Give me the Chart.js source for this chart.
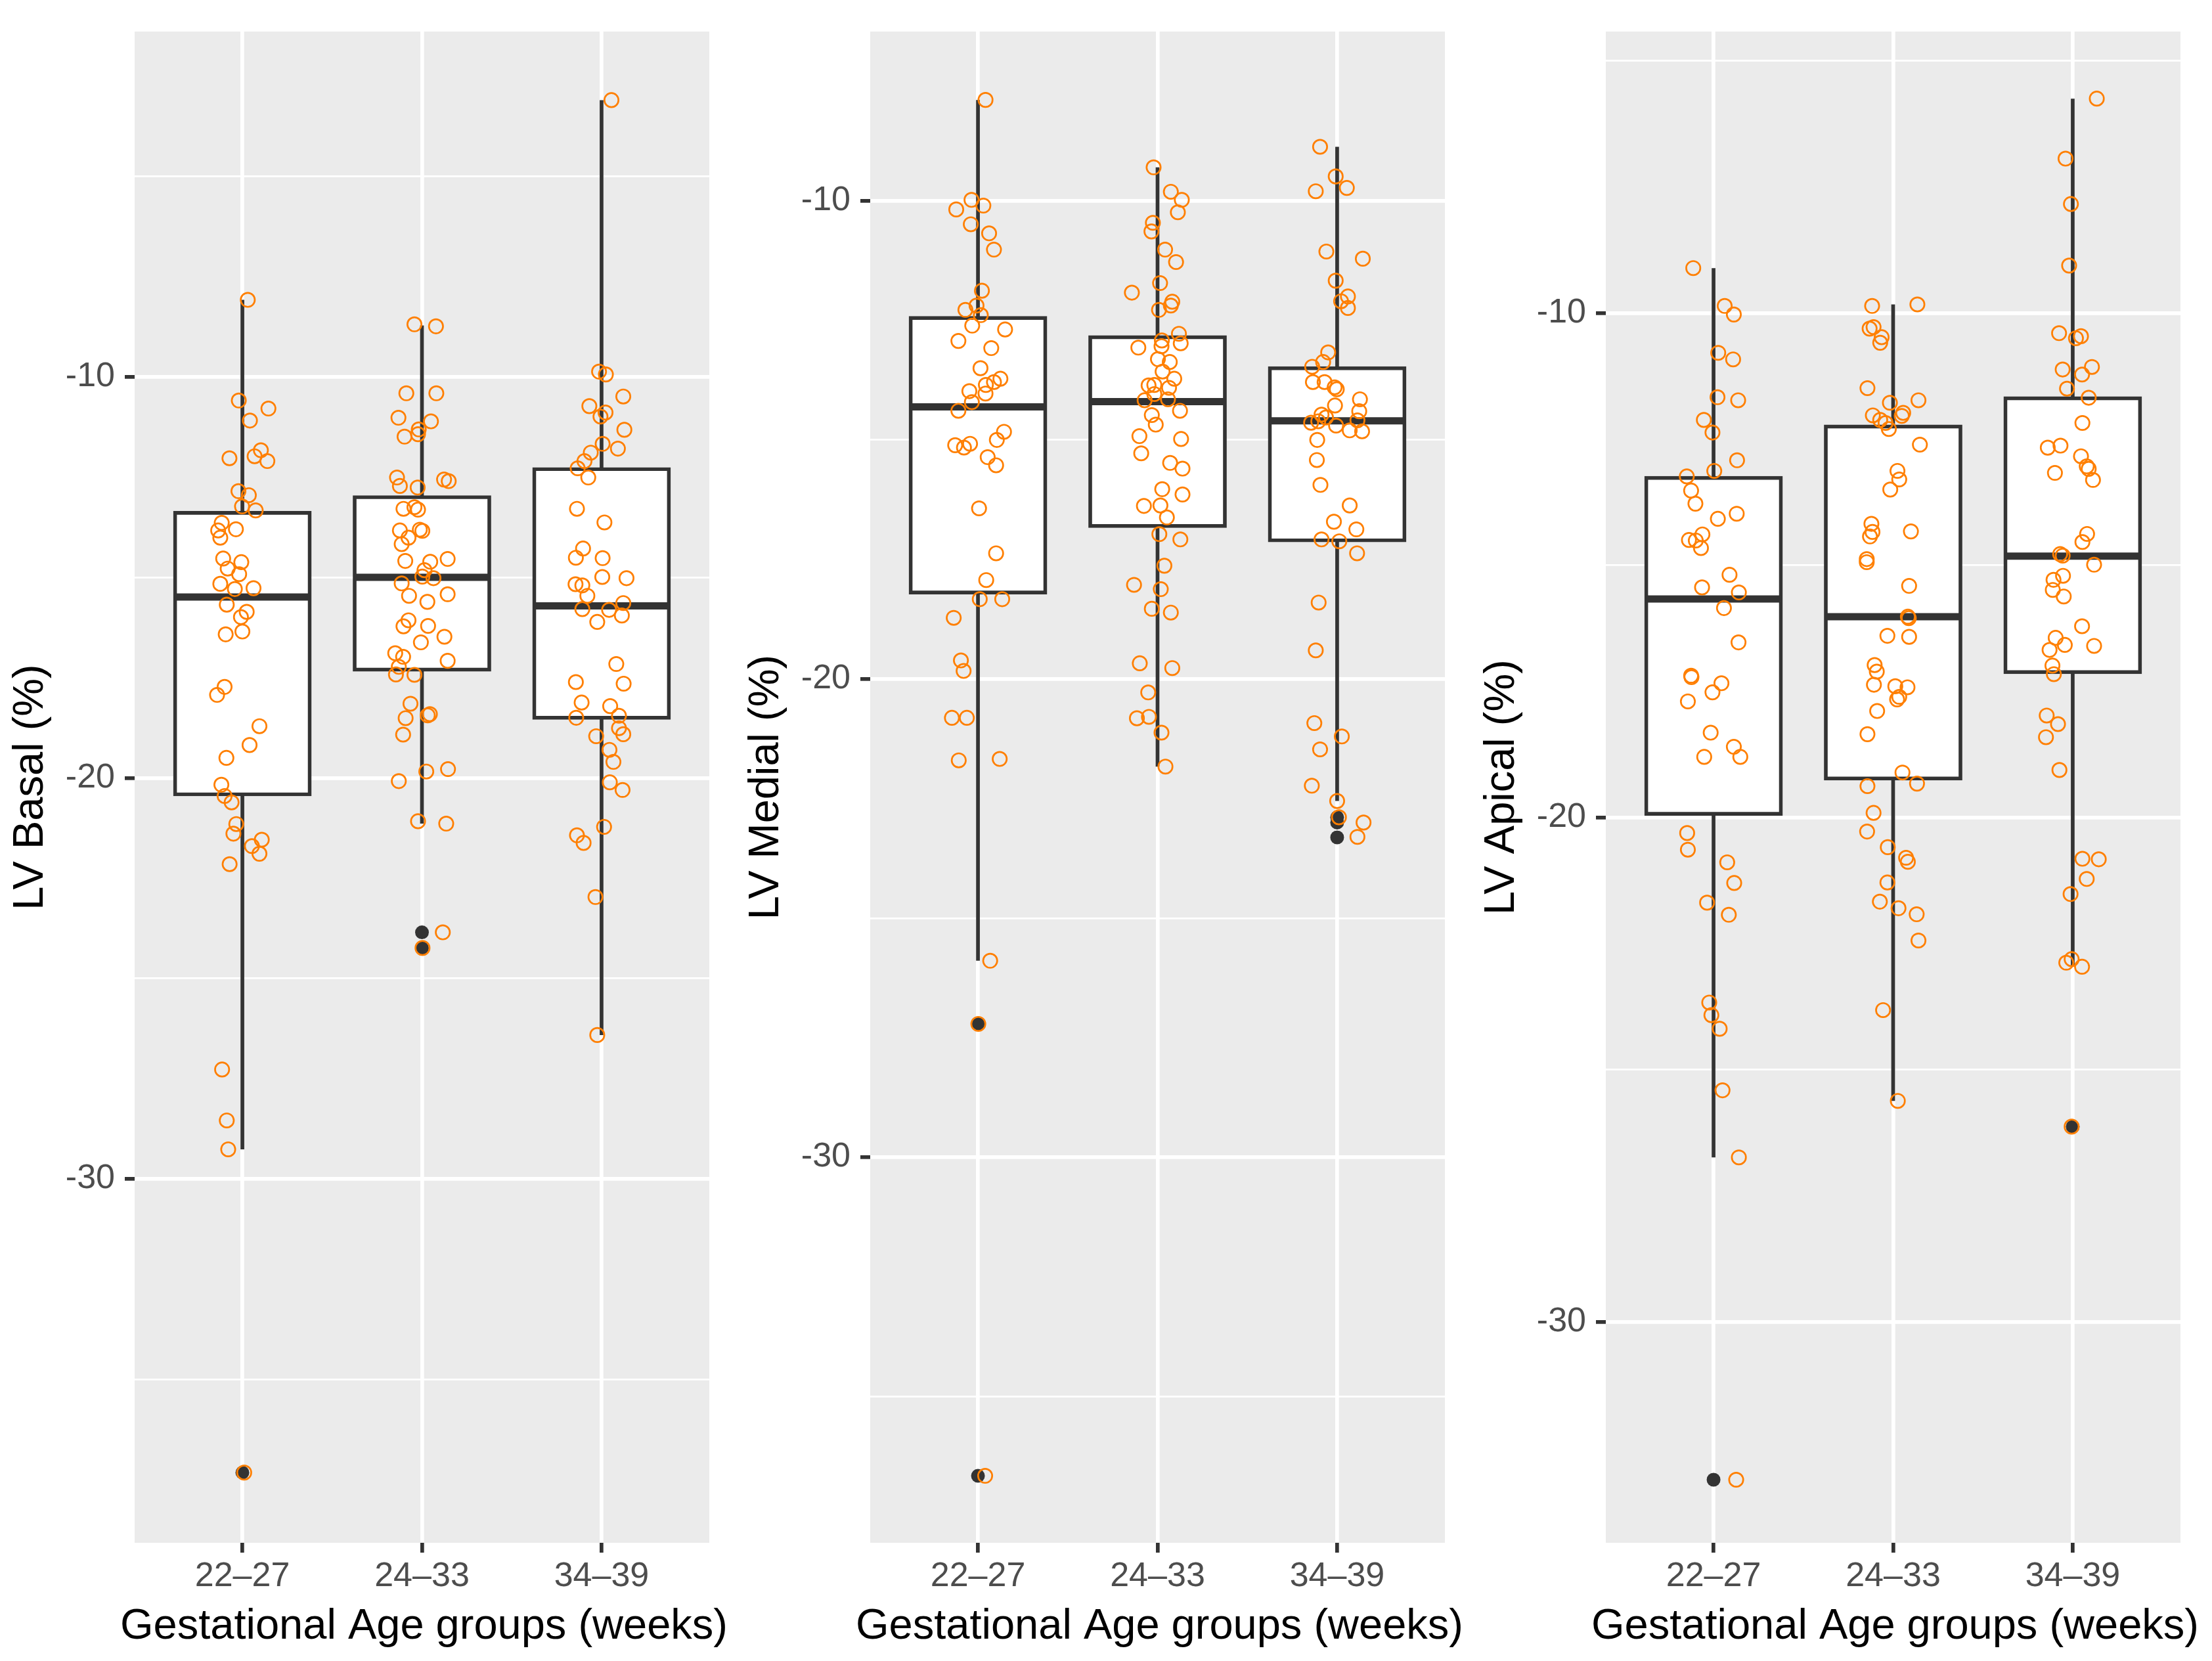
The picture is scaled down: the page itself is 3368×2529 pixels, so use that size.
<!DOCTYPE html>
<html>
<head>
<meta charset="utf-8">
<script src="https://cdn.jsdelivr.net/npm/chart.js@4.4.1/dist/chart.umd.min.js"></script>
<style>
  html, body { margin: 0; padding: 0; background: #fff; }
  #wrap { display: flex; width: 3368px; height: 2529px; }
  canvas { display: block; }
</style>
</head>
<body>
<div id="wrap">
  <canvas id="basal" width="1120" height="2529" style="width:1120px;height:2529px"></canvas>
  <canvas id="medial" width="1120" height="2529" style="width:1120px;height:2529px"></canvas>
  <canvas id="apical" width="1128" height="2529" style="width:1128px;height:2529px"></canvas>
</div>
<script>
const groups = ['22–27', '24–33', '34–39'];
const xTitle = 'Gestational Age groups (weeks)';

// ---- LV Basal ----
const basalVal1 = [-8.08,-10.59,-10.79,-11.09,-12.03,-11.98,-11.83,-12.10,-12.85,-12.95,-13.23,-13.33,-13.64,-13.83,-13.80,-14.01,-14.53,-14.62,-14.78,-14.92,-15.16,-15.29,-15.27,-15.68,-15.86,-15.99,-16.42,-16.35,-17.73,-17.93,-18.71,-19.18,-19.50,-20.17,-20.45,-20.61,-21.15,-21.39,-21.54,-21.70,-21.89,-22.15,-27.27,-28.54,-29.26,-37.32];
const basalJit1 = [0.03,-0.02,0.145,0.042,-0.072,0.068,0.103,0.139,-0.022,0.036,-0.002,0.074,-0.115,-0.135,-0.036,-0.123,-0.107,-0.006,-0.082,-0.018,-0.123,-0.042,0.062,-0.087,0.024,-0.008,-0.093,0,-0.099,-0.141,0.095,0.04,-0.089,-0.117,-0.099,-0.06,-0.034,-0.05,0.108,0.053,0.095,-0.071,-0.113,-0.087,-0.079,0.01];
const basalVal2 = [-8.69,-8.74,-10.41,-10.41,-11.02,-11.11,-11.31,-11.43,-11.49,-12.51,-12.72,-12.76,-12.56,-12.60,-13.29,-13.25,-13.31,-13.83,-13.81,-13.84,-14.01,-14.17,-14.59,-14.61,-14.54,-14.82,-14.98,-15.02,-15.15,-15.46,-15.42,-15.61,-16.07,-16.22,-16.21,-16.48,-16.62,-16.89,-16.98,-17.23,-17.42,-17.43,-17.08,-18.15,-18.51,-18.44,-18.41,-18.92,-19.84,-19.78,-20.08,-21.08,-21.14,-23.85,-24.24];
const basalJit2 = [-0.042,0.078,-0.087,0.08,-0.131,0.05,-0.018,-0.022,-0.097,-0.139,-0.123,-0.024,0.123,0.149,-0.103,-0.042,-0.022,-0.123,-0.012,0.002,-0.075,-0.113,-0.093,0.046,0.143,0.014,0.002,0.064,-0.113,-0.072,0.143,0.03,-0.075,-0.103,0.034,0.125,-0.006,-0.149,-0.105,-0.129,-0.145,-0.042,0.143,-0.064,-0.091,0.032,0.044,-0.105,0.024,0.145,-0.129,-0.022,0.135,0.116,0.003];
const basalVal3 = [-3.1,-9.87,-9.94,-10.49,-10.73,-10.89,-10.99,-11.32,-11.67,-11.79,-11.89,-12.10,-12.28,-12.51,-13.29,-13.63,-14.28,-14.51,-14.52,-14.99,-15.02,-15.17,-15.20,-15.46,-15.64,-15.79,-15.81,-15.95,-16.11,-17.16,-17.61,-17.65,-18.12,-18.21,-18.45,-18.50,-18.76,-18.91,-18.96,-19.30,-19.60,-20.11,-20.30,-21.22,-21.43,-21.62,-22.97,-26.41];
const basalJit3 = [0.055,-0.014,0.024,0.121,-0.068,0.022,-0.006,0.127,0.006,0.091,-0.06,-0.095,-0.133,-0.074,-0.137,0.016,-0.103,-0.143,0.006,0.004,0.139,-0.145,-0.107,-0.079,0.121,-0.107,0.042,0.113,-0.024,0.082,-0.143,0.123,-0.111,0.048,0.097,-0.141,0.097,0.121,-0.03,0.044,0.066,0.046,0.117,0.014,-0.137,-0.1,-0.034,-0.024];
const basalQ1 = [-20.41, -17.30, -18.50];
const basalMed = [-15.49, -15.00, -15.71];
const basalQ3 = [-13.39, -13.00, -12.30];
const basalLo = [-29.26, -21.14, -26.41];
const basalHi = [-8.08, -8.72, -3.10];
const basalOut = [[-37.32], [-23.85, -24.24], []];

// ---- LV Medial ----
const medialVal1 = [-7.89,-9.98,-10.10,-10.18,-10.49,-10.68,-11.02,-11.88,-12.19,-12.28,-12.39,-12.61,-12.69,-12.93,-13.08,-13.50,-13.72,-13.79,-13.85,-14.03,-13.98,-14.21,-14.39,-14.83,-15.00,-15.11,-15.16,-15.08,-15.36,-15.53,-16.43,-17.37,-17.93,-18.33,-18.33,-18.72,-19.61,-19.83,-20.81,-20.81,-21.70,-21.67,-25.89,-27.21,-36.66];
const medialJit1 = [0.042,-0.036,0.03,-0.121,-0.04,0.062,0.089,0.022,-0.008,-0.07,0.016,-0.032,0.151,-0.109,0.074,0.014,0.125,0.089,0.044,0.042,-0.048,-0.034,-0.109,0.145,0.105,-0.127,-0.078,-0.044,0.054,0.101,0.006,0.101,0.046,0.01,0.135,-0.135,-0.095,-0.08,-0.145,-0.062,-0.107,0.121,0.068,0.002,0.04];
const medialVal2 = [-9.30,-9.81,-9.98,-10.24,-10.46,-10.64,-11.02,-11.28,-11.72,-11.92,-12.11,-12.19,-12.28,-12.78,-12.92,-12.98,-13.07,-13.04,-13.31,-13.37,-13.57,-13.72,-13.86,-13.85,-13.91,-14.04,-14.17,-14.15,-14.39,-14.48,-14.68,-14.92,-14.98,-15.28,-15.48,-15.60,-16.03,-16.14,-16.38,-16.37,-16.62,-16.97,-17.08,-17.63,-18.03,-18.12,-18.53,-18.61,-19.67,-19.77,-20.28,-20.82,-20.79,-21.12,-21.83];
const medialJit2 = [-0.022,0.074,0.135,0.113,-0.026,-0.034,0.042,0.103,0.014,-0.143,0.082,0.074,0.008,0.119,0.024,0.129,-0.107,0.022,0.002,0.068,0.028,0.093,-0.05,-0.018,0.064,-0.018,-0.072,0.058,0.125,-0.032,-0.01,-0.101,0.131,-0.091,0.07,0.139,0.026,0.139,-0.076,0.016,0.052,0.01,0.127,0.038,-0.131,0.018,-0.032,0.074,-0.099,0.082,-0.052,-0.115,-0.048,0.022,0.044];
const medialVal3 = [-8.87,-9.49,-9.73,-9.80,-11.06,-11.21,-11.67,-12.00,-12.10,-12.24,-13.17,-13.37,-13.47,-13.79,-13.79,-13.90,-13.94,-14.15,-14.28,-14.40,-14.47,-14.53,-14.64,-14.61,-14.59,-14.70,-14.80,-14.82,-15.00,-15.42,-15.94,-16.37,-16.71,-16.87,-17.08,-17.12,-17.37,-18.40,-19.40,-20.92,-21.20,-21.47,-22.23,-22.55,-22.89,-23.00,-23.30];
const medialJit3 = [-0.095,-0.008,0.054,-0.119,-0.06,0.143,-0.008,0.06,0.022,0.06,-0.05,-0.078,-0.139,-0.135,-0.07,-0.014,-0.002,0.127,-0.012,0.123,-0.087,-0.062,-0.145,-0.105,0.113,-0.006,0.07,0.139,-0.111,-0.113,-0.093,0.07,-0.018,0.107,-0.087,0.012,0.111,-0.103,-0.119,-0.127,0.026,-0.095,-0.141,0,0.01,0.147,0.113];
const medialQ1 = [-18.19, -16.80, -17.10];
const medialMed = [-14.31, -14.20, -14.60];
const medialQ3 = [-12.45, -12.85, -13.50];
const medialLo = [-25.89, -21.83, -22.55];
const medialHi = [-7.89, -9.30, -8.87];
const medialOut = [[-27.21, -36.66], [], [-22.89, -23.00, -23.31]];

// ---- LV Apical ----
const apicalVal1 = [-9.11,-9.86,-10.03,-10.79,-10.92,-11.67,-11.73,-12.12,-12.37,-12.92,-13.13,-13.24,-13.52,-13.78,-14.08,-13.98,-14.39,-14.50,-14.51,-14.66,-15.19,-15.44,-15.54,-15.85,-16.53,-17.19,-17.22,-17.34,-17.52,-17.70,-18.32,-18.60,-18.80,-18.80,-20.31,-20.64,-20.89,-21.30,-21.69,-21.93,-23.67,-23.92,-24.19,-25.41,-26.74,-33.13];
const apicalJit1 = [-0.113,0.062,0.113,0.026,0.109,0.022,0.137,-0.054,-0.006,0.131,0.004,-0.149,-0.125,-0.101,0.024,0.129,-0.062,-0.137,-0.099,-0.07,0.089,-0.064,0.141,0.058,0.139,-0.125,-0.123,0.044,-0.006,-0.143,-0.016,0.113,0.149,-0.052,-0.147,-0.143,0.076,0.115,-0.036,0.085,-0.024,-0.012,0.034,0.05,0.141,0.126];
const apicalVal2 = [-9.86,-9.83,-10.31,-10.28,-10.48,-10.59,-11.49,-11.78,-11.73,-12.03,-11.98,-12.04,-12.12,-12.18,-12.30,-12.61,-13.13,-13.30,-13.50,-14.18,-14.34,-14.43,-14.33,-14.88,-14.94,-15.41,-16.02,-16.05,-16.40,-16.42,-16.98,-17.11,-17.37,-17.40,-17.42,-17.66,-17.61,-17.89,-18.35,-19.11,-19.33,-19.38,-19.91,-20.28,-20.59,-20.80,-20.88,-21.29,-21.67,-21.80,-21.92,-22.44,-23.82,-25.62];
const apicalJit2 = [-0.117,0.135,-0.131,-0.109,-0.064,-0.072,-0.143,-0.018,0.141,-0.113,0.056,0.048,-0.072,-0.042,-0.024,0.149,0.024,0.034,-0.016,-0.121,-0.115,-0.129,0.099,-0.147,-0.147,0.089,0.082,0.087,-0.032,0.089,-0.103,-0.091,-0.107,0.012,0.08,0.022,0.034,-0.089,-0.143,0.052,0.133,-0.143,-0.109,-0.145,-0.03,0.072,0.082,-0.032,-0.074,0.03,0.131,0.141,-0.056,0.026];
const apicalVal3 = [-5.75,-6.94,-7.84,-9.06,-10.40,-10.46,-10.50,-11.12,-11.07,-11.22,-11.50,-11.68,-12.18,-12.67,-12.63,-12.84,-13.04,-13.09,-13.17,-13.31,-14.38,-14.54,-14.78,-14.81,-14.99,-15.21,-15.29,-15.49,-15.62,-16.21,-16.44,-16.58,-16.68,-16.60,-16.99,-17.16,-17.98,-18.15,-18.41,-19.06,-20.82,-20.83,-21.22,-21.52,-22.81,-22.88,-22.96,-26.13];
const apicalJit3 = [0.134,-0.04,-0.01,-0.02,-0.076,0.046,0.018,-0.056,0.107,0.052,-0.032,0.089,0.054,-0.139,-0.068,0.046,0.078,0.089,-0.099,0.113,0.08,0.054,-0.07,-0.056,0.119,-0.054,-0.107,-0.111,-0.05,0.052,-0.095,-0.044,-0.129,0.119,-0.113,-0.105,-0.145,-0.082,-0.149,-0.074,0.054,0.145,0.078,-0.012,-0.006,-0.036,0.052,-0.006];
const apicalQ1 = [-19.93, -19.23, -17.12];
const apicalMed = [-15.67, -16.02, -14.82];
const apicalQ3 = [-13.27, -12.25, -11.69];
const apicalLo = [-26.74, -25.62, -22.96];
const apicalHi = [-9.11, -9.83, -5.75];
const apicalOut = [[-33.13], [], [-26.13]];

const FONT = '"Liberation Sans", Arial, Helvetica, sans-serif';
const DARK = '#333333';
const ORANGE = '#FF7F00';
const LINE = 5.7;

// grey panel behind the plot area, like ggplot's theme_gray
const panelBg = {
  id: 'panelBg',
  beforeDraw(chart) {
    const { ctx, chartArea: a } = chart;
    ctx.save();
    ctx.fillStyle = '#ffffff';
    ctx.fillRect(0, 0, chart.width, chart.height);
    ctx.fillStyle = '#EBEBEB';
    ctx.fillRect(a.left, a.top, a.right - a.left, a.bottom - a.top);
    ctx.restore();
  }
};

// x-axis title: wider than the plot area, so draw it without Chart.js' maxWidth squeeze
const xTitlePlugin = {
  id: 'xTitlePlugin',
  afterDraw(chart) {
    const { ctx, chartArea: a } = chart;
    ctx.save();
    ctx.font = '65px ' + FONT;
    ctx.fillStyle = '#000000';
    ctx.textAlign = 'center';
    ctx.textBaseline = 'alphabetic';
    ctx.fillText(xTitle, (a.left + a.right) / 2 + 3, 2495);
    ctx.restore();
  }
};

function drawPanel(id, yTitle, yMin, yMax, padRight, vals, jits, q1, med, q3, lo, hi, outs) {
  const points = [];
  vals.forEach((arr, g) => arr.forEach((v, i) => points.push({ x: g + 1 + jits[g][i], y: v })));
  const outliers = [];
  outs.forEach((arr, g) => arr.forEach(v => outliers.push({ x: g + 1, y: v })));
  const boxes = q1.map((v, g) => ({ x: g + 1, y: [v, q3[g]] }));
  const medians = [];
  med.forEach((m, g) => {
    medians.push({ x: g + 0.625, y: m }, { x: g + 1.375, y: m }, { x: g + 1.5, y: null });
  });
  const whiskers = [];
  lo.forEach((l, g) => {
    whiskers.push({ x: g + 1, y: l }, { x: g + 1, y: hi[g] }, { x: g + 1.5, y: null });
  });

  new Chart(document.getElementById(id), {
    type: 'scatter',
    data: {
      datasets: [
        { type: 'scatter', data: points, order: 0, pointRadius: 10.7, pointBorderWidth: 2.7,
          borderColor: ORANGE, backgroundColor: 'rgba(0,0,0,0)', pointHoverRadius: 10.7 },
        { type: 'scatter', data: outliers, order: 1, pointRadius: 10.5, borderWidth: 0,
          backgroundColor: DARK, borderColor: DARK },
        { type: 'line', data: medians, order: 2, borderColor: DARK, borderWidth: 11,
          pointRadius: 0, spanGaps: false, fill: false, borderCapStyle: 'butt' },
        { type: 'bar', data: boxes, order: 3, backgroundColor: '#ffffff', borderColor: DARK,
          borderWidth: LINE, borderSkipped: false, inflateAmount: LINE / 2,
          barPercentage: 0.75, categoryPercentage: 1, grouped: false },
        { type: 'line', data: whiskers, order: 4, borderColor: DARK, borderWidth: LINE,
          pointRadius: 0, spanGaps: false, fill: false, borderCapStyle: 'butt' }
      ]
    },
    options: {
      responsive: false,
      animation: false,
      devicePixelRatio: 1,
      events: [],
      layout: { padding: { top: 48, right: padRight, bottom: 0, left: 0 } },
      plugins: { legend: { display: false }, tooltip: { enabled: false } },
      scales: {
        x: {
          type: 'linear', min: 0.4, max: 3.6, offset: false,
          afterBuildTicks: s => { s.ticks = groups.map((_, i) => ({ value: i + 1 })); },
          afterFit: s => { s.height = 180; },
          border: { display: false },
          grid: { offset: false, color: '#ffffff', lineWidth: LINE, tickColor: DARK, tickWidth: LINE, tickLength: 15 },
          ticks: { callback: v => groups[v - 1], color: '#4D4D4D', font: { size: 52, family: FONT },
                   padding: 5, maxRotation: 0, autoSkip: false },
          title: { display: false }
        },
        y: {
          min: yMin, max: yMax,
          afterBuildTicks: s => {
            const t = [];
            for (let v = -40; v <= 0; v += 5) if (v >= yMin && v <= yMax) t.push({ value: v });
            s.ticks = t;
          },
          afterFit: s => { s.width = 205; },
          border: { display: false },
          grid: {
            color: '#ffffff',
            lineWidth: c => (c.tick && c.tick.value % 10 === 0 ? LINE : LINE / 2),
            tickColor: c => (c.tick && c.tick.value % 10 === 0 ? DARK : 'rgba(0,0,0,0)'),
            tickWidth: LINE,
            tickLength: 15
          },
          ticks: { callback: v => (v % 10 === 0 ? String(v) : ''), color: '#4D4D4D',
                   font: { size: 52, family: FONT }, padding: 15, autoSkip: false },
          title: { display: true, text: yTitle, color: '#000000',
                   font: { size: 65, family: FONT }, padding: { top: 8, bottom: 0 } }
        }
      }
    },
    plugins: [panelBg, xTitlePlugin]
  });
}

drawPanel('basal', 'LV Basal (%)', -39.07, -1.39, 40,
  [basalVal1, basalVal2, basalVal3], [basalJit1, basalJit2, basalJit3],
  basalQ1, basalMed, basalQ3, basalLo, basalHi, basalOut);
drawPanel('medial', 'LV Medial (%)', -38.06, -6.46, 40,
  [medialVal1, medialVal2, medialVal3], [medialJit1, medialJit2, medialJit3],
  medialQ1, medialMed, medialQ3, medialLo, medialHi, medialOut);
drawPanel('apical', 'LV Apical (%)', -34.38, -4.42, 48,
  [apicalVal1, apicalVal2, apicalVal3], [apicalJit1, apicalJit2, apicalJit3],
  apicalQ1, apicalMed, apicalQ3, apicalLo, apicalHi, apicalOut);
</script>
</body>
</html>
